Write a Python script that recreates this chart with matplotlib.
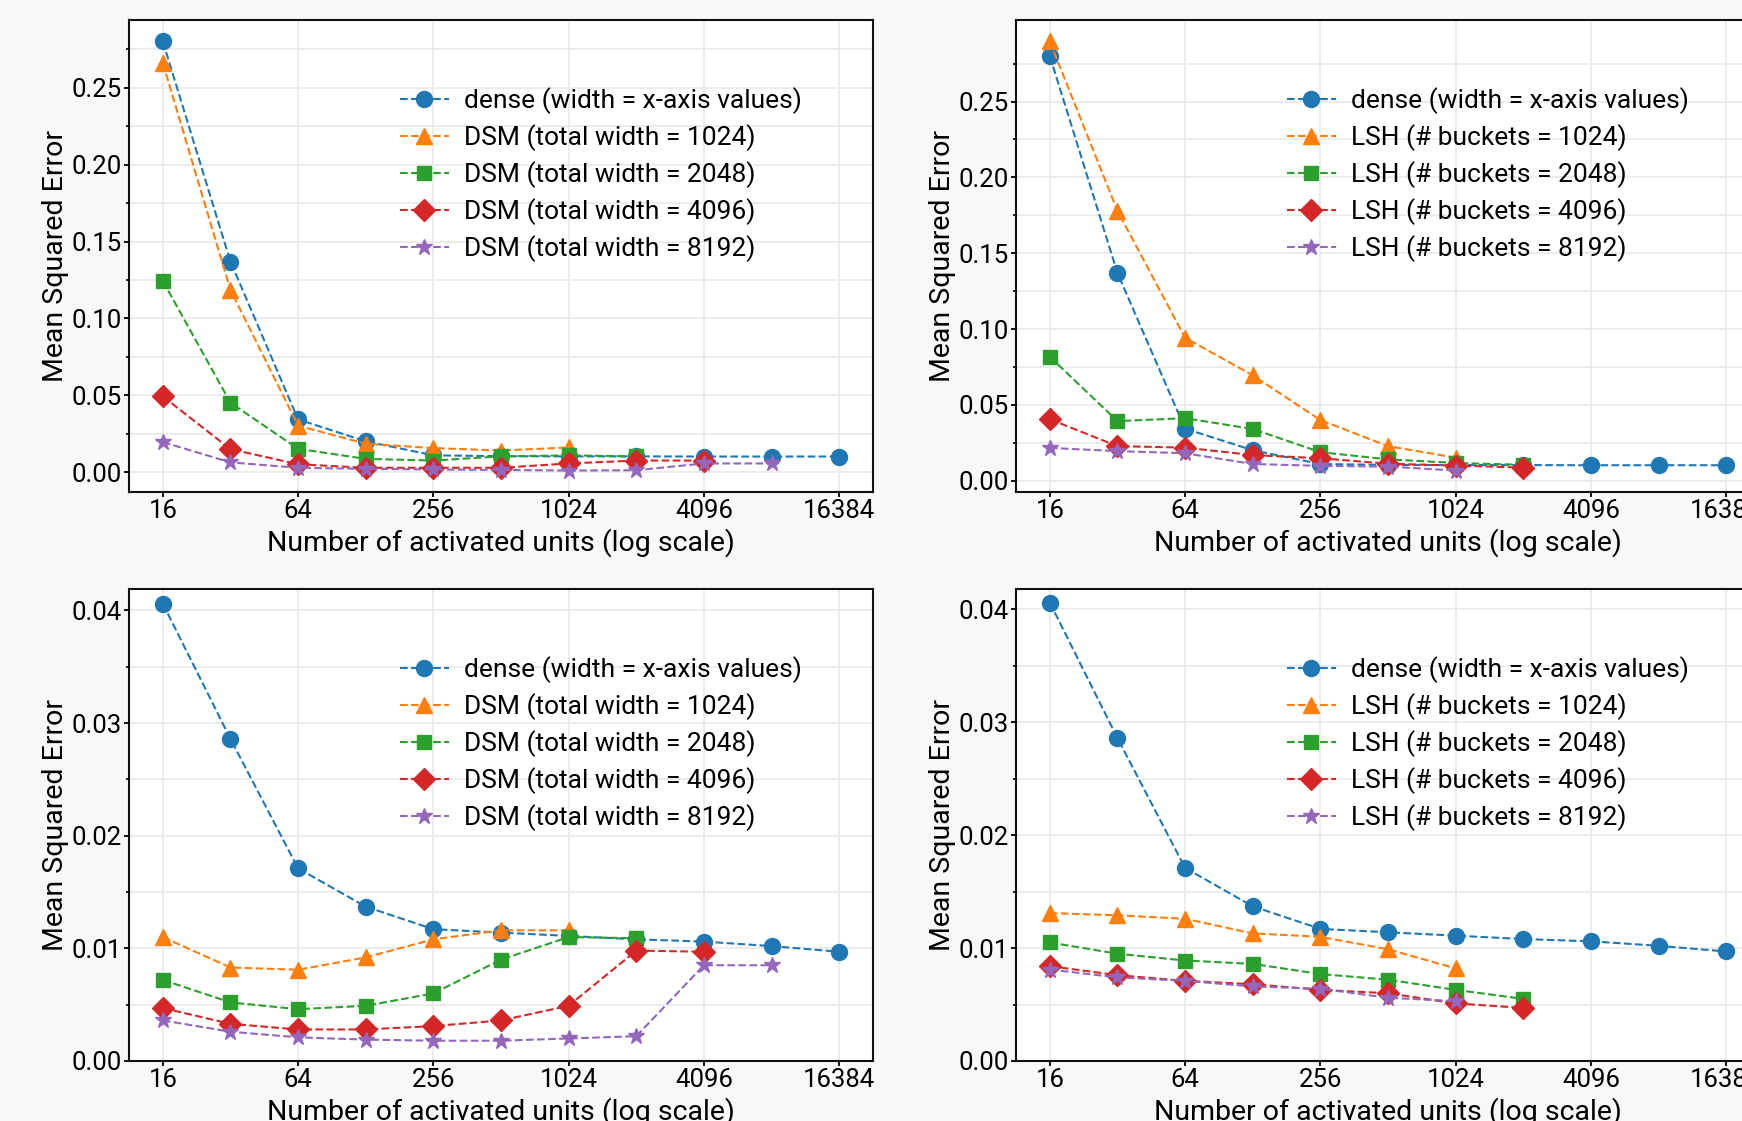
import numpy as np
import matplotlib
matplotlib.use('Agg')
import matplotlib.pyplot as plt
from matplotlib.ticker import FixedLocator, NullLocator

plt.rcParams['font.family'] = ['Roboto', 'DejaVu Sans']

# x positions: number of activated units
units = [16, 32, 64, 128, 256, 512, 1024, 2048, 4096, 8192, 16384]
tick_units = [16, 64, 256, 1024, 4096, 16384]

# top row (larger error scale)
dense_top = [0.280, 0.137, 0.0344, 0.0202, 0.0111, 0.0105, 0.0104, 0.0104, 0.0103, 0.0103, 0.0103]
dsm_top_1024 = [0.266, 0.1186, 0.0304, 0.0186, 0.0158, 0.0142, 0.0162]
dsm_top_2048 = [0.1244, 0.0453, 0.0153, 0.0088, 0.0077, 0.0104, 0.0111, 0.0104]
dsm_top_4096 = [0.0494, 0.0151, 0.0053, 0.0030, 0.0030, 0.0030, 0.0058, 0.0077, 0.0077]
dsm_top_8192 = [0.0197, 0.0065, 0.0030, 0.0023, 0.0019, 0.0016, 0.0012, 0.0014, 0.0058, 0.0058]
lsh_top_1024 = [0.2896, 0.178, 0.0943, 0.0696, 0.0401, 0.0229, 0.0153]
lsh_top_2048 = [0.0818, 0.0394, 0.0413, 0.0342, 0.0189, 0.0142, 0.0118, 0.0106]
lsh_top_4096 = [0.0406, 0.0229, 0.0219, 0.0170, 0.0149, 0.0113, 0.0101, 0.0087]
lsh_top_8192 = [0.0217, 0.0196, 0.0182, 0.0111, 0.0099, 0.0094, 0.0068]

# bottom row (smaller error scale)
dense_bot = [0.0406, 0.0286, 0.0171, 0.0137, 0.0117, 0.0114, 0.0111, 0.0108, 0.0106, 0.0102, 0.0097]
dsm_bot_1024 = [0.0110, 0.0083, 0.0081, 0.0092, 0.0108, 0.0116, 0.0116]
dsm_bot_2048 = [0.0072, 0.0052, 0.0046, 0.0049, 0.0060, 0.0090, 0.0110, 0.0109]
dsm_bot_4096 = [0.0047, 0.0033, 0.0028, 0.0028, 0.0031, 0.0036, 0.0049, 0.0098, 0.0097]
dsm_bot_8192 = [0.0036, 0.0026, 0.0021, 0.0019, 0.0018, 0.0018, 0.0020, 0.0022, 0.0085, 0.0085]
lsh_bot_1024 = [0.0131, 0.0129, 0.0126, 0.0113, 0.0110, 0.0099, 0.0082]
lsh_bot_2048 = [0.0105, 0.0095, 0.0089, 0.0086, 0.0077, 0.0072, 0.0063, 0.0055]
lsh_bot_4096 = [0.0084, 0.0076, 0.0071, 0.0068, 0.0063, 0.0060, 0.0051, 0.0047]
lsh_bot_8192 = [0.0081, 0.0074, 0.0071, 0.0066, 0.0064, 0.0056, 0.0053]

top_yticks = [0.00, 0.05, 0.10, 0.15, 0.20, 0.25]
bot_yticks = [0.00, 0.01, 0.02, 0.03, 0.04]

widths = [1024, 2048, 4096, 8192]
dense_label = 'dense (width = x-axis values)'
dsm_labels = ['DSM (total width = %d)' % w for w in widths]
lsh_labels = ['LSH (# buckets = %d)' % w for w in widths]

colors = ['#1f77b4', '#ff7f0e', '#2ca02c', '#d62728', '#9467bd']
markers = ['o', '^', 's', 'D', '*']
msizes = [11.5, 11.5, 10.5, 11, 12]

W, H = 1742, 1121
fig = plt.figure(figsize=(W / 100, H / 100), dpi=100, facecolor='#f7f8fa')


def make_panel(rect, dense, series, labels, yticks, ylim=None):
    ax = fig.add_axes(rect)
    ax.set_facecolor('white')
    all_series = [dense] + series
    all_labels = [dense_label] + labels
    for i, (vals, lab) in enumerate(zip(all_series, all_labels)):
        ax.plot(units[:len(vals)], vals, linestyle='--', linewidth=1.5,
                marker=markers[i], markersize=msizes[i], color=colors[i],
                label=lab)
    ax.set_xscale('log', base=2)
    ax.xaxis.set_major_locator(FixedLocator(tick_units))
    ax.xaxis.set_minor_locator(NullLocator())
    ax.set_xticklabels([str(t) for t in tick_units])
    step = yticks[1] - yticks[0]
    ax.yaxis.set_major_locator(FixedLocator(yticks))
    ax.yaxis.set_minor_locator(FixedLocator([t + step / 2 for t in yticks]))
    ax.set_yticklabels(['%.2f' % t for t in yticks])
    if ylim is not None:
        ax.set_ylim(*ylim)
    ax.grid(True, which='major', axis='x', color='#ebebeb', linewidth=1.3)
    ax.grid(True, which='both', axis='y', color='#ebebeb', linewidth=1.3)
    ax.set_axisbelow(True)
    for s in ax.spines.values():
        s.set_linewidth(1.5)
        s.set_color('#111111')
    ax.tick_params(axis='both', which='major', labelsize=18.5, length=3.5, width=1.3)
    ax.tick_params(axis='x', which='major', pad=1.5)
    ax.tick_params(axis='y', which='major', pad=1.5)
    ax.tick_params(axis='y', which='minor', length=2.5, width=1.2)
    ax.set_xlabel('Number of activated units (log scale)', fontsize=20.5, labelpad=3.5)
    ax.set_ylabel('Mean Squared Error', fontsize=20.5, labelpad=2)
    ax.legend(loc='upper left', bbox_to_anchor=(0.364, 0.857), frameon=False,
              fontsize=19, borderpad=0, labelspacing=0.38, handlelength=1.85,
              handletextpad=0.6, borderaxespad=0)
    return ax


left_x = 129 / W
right_x = 1016 / W
aw = 744 / W
top_y = (H - 492) / H
top_h = 472 / H
bot_y = (H - 1061) / H
bot_h = 472 / H

make_panel([left_x, top_y, aw, top_h], dense_top,
           [dsm_top_1024, dsm_top_2048, dsm_top_4096, dsm_top_8192], dsm_labels, top_yticks)
make_panel([right_x, top_y, aw, top_h], dense_top,
           [lsh_top_1024, lsh_top_2048, lsh_top_4096, lsh_top_8192], lsh_labels, top_yticks)
make_panel([left_x, bot_y, aw, bot_h], dense_bot,
           [dsm_bot_1024, dsm_bot_2048, dsm_bot_4096, dsm_bot_8192], dsm_labels, bot_yticks,
           ylim=(0, 0.0419))
make_panel([right_x, bot_y, aw, bot_h], dense_bot,
           [lsh_bot_1024, lsh_bot_2048, lsh_bot_4096, lsh_bot_8192], lsh_labels, bot_yticks,
           ylim=(0, 0.0418))

fig.savefig('out.png', dpi=100, facecolor=fig.get_facecolor())
